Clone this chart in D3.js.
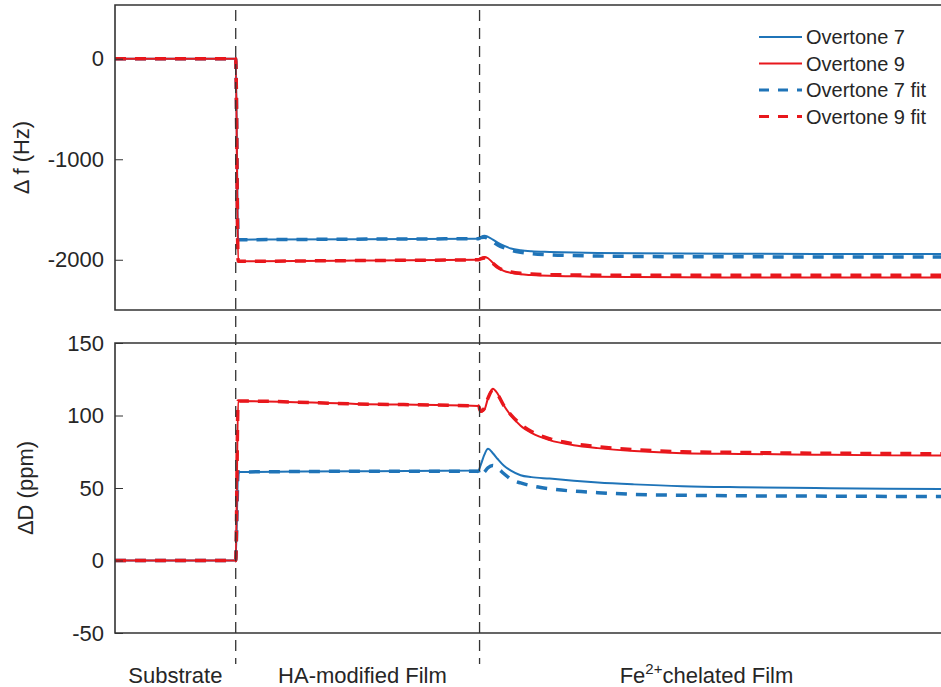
<!DOCTYPE html>
<html>
<head>
<meta charset="utf-8">
<script src="https://cdn.jsdelivr.net/npm/d3@7"></script>
<style>
  html, body { margin: 0; padding: 0; background: #fff; }
  svg { display: block; font-family: "Liberation Sans", Arial, Helvetica, sans-serif; }
</style>
</head>
<body>
<svg id="chart" width="941" height="687"></svg>
<script>
// Time (min) of each sample
const time = [0, 10, 10.2, 20, 30.1, 30.3, 30.6, 30.9, 31.3, 31.7, 32.2, 32.8, 33.6, 34.5, 36, 38, 40, 43, 47, 52, 58, 64, 70];

// Frequency shift, Δf (Hz)
const df7    = [0, 0, -1800, -1795, -1790, -1775, -1762, -1772, -1800, -1830, -1860, -1888, -1905, -1915, -1922, -1928, -1932, -1936, -1939, -1941, -1942, -1942, -1943];
const df9    = [0, 0, -2015, -2008, -2000, -1985, -1972, -1985, -2030, -2075, -2110, -2130, -2145, -2152, -2160, -2165, -2170, -2172, -2175, -2176, -2177, -2177, -2177];
const df7fit = [0, 0, -1800, -1795, -1790, -1780, -1775, -1788, -1822, -1852, -1880, -1905, -1925, -1938, -1950, -1958, -1963, -1967, -1970, -1971, -1972, -1973, -1973];
const df9fit = [0, 0, -2015, -2008, -2000, -1990, -1982, -1995, -2035, -2075, -2105, -2122, -2135, -2142, -2148, -2151, -2153, -2154, -2155, -2155, -2155, -2155, -2155];

// Dissipation shift, ΔD (ppm)
const dd7    = [0, 0, 61, 61.5, 62, 66, 73, 77, 74, 70, 65.5, 62, 58.8, 57.5, 56.5, 55, 53.8, 52.5, 51.2, 50.5, 50, 49.5, 49.2];
const dd9    = [0, 0, 110, 108, 106.5, 102.5, 104, 112, 118.5, 115, 107, 100, 93, 88, 83, 79.5, 77.5, 75.5, 74, 73.5, 73, 72.5, 72.3];
const dd7fit = [0, 0, 61, 61.5, 61.5, 58.5, 61, 64, 65.5, 63.5, 60, 56, 53.5, 51.5, 49.5, 47.8, 46.8, 45.6, 45, 44.6, 44.4, 44.2, 44];
const dd9fit = [0, 0, 110, 108, 106.5, 103, 105, 112, 117.5, 114.5, 107, 100.5, 94, 89, 84, 80.5, 78.5, 76.5, 75, 74.5, 74, 73.8, 73.5];

// Stage boundaries (min) and stage labels
const stageBreaks = [10, 30.2];
const stageNames = ["Substrate", "HA-modified Film", "Fe2+chelated Film"];
const stageLabelTimes = [5, 20.5, 49];

// Tick values
const dfTicks = [0, -1000, -2000];
const ddTicks = [150, 100, 50, 0, -50];

const seriesNames = ["Overtone 7", "Overtone 9", "Overtone 7 fit", "Overtone 9 fit"];

const BLUE = "#1f74b8";
const RED = "#e8171c";
const TEXT = "#262626";
const styles = [
  { color: BLUE, width: 2, dash: null },
  { color: RED, width: 2, dash: null },
  { color: BLUE, width: 3.5, dash: "11,9" },
  { color: RED, width: 3.5, dash: "11,9" }
];

const svg = d3.select("#chart");
const left = 115, right = 960;

const x = d3.scaleLinear().domain([0, 70]).range([left, right]);
const yTop = d3.scaleLinear().domain([-2500, 535]).range([310, 5]);
const yBot = d3.scaleLinear().domain([-50, 150]).range([633, 343]);

const panels = [
  { y: yTop, top: 5, bottom: 310, ticks: dfTicks, series: [df7, df9, df7fit, df9fit], label: "\u0394 f (Hz)", labelX: 29 },
  { y: yBot, top: 343, bottom: 633, ticks: ddTicks, series: [dd7, dd9, dd7fit, dd9fit], label: "\u0394D (ppm)", labelX: 33 }
];

panels.forEach((p, i) => {
  const g = svg.append("g");
  const clipId = "clip" + i;
  svg.append("clipPath").attr("id", clipId)
    .append("rect").attr("x", left).attr("y", p.top).attr("width", right - left).attr("height", p.bottom - p.top);

  const lines = g.append("g").attr("clip-path", `url(#${clipId})`);
  p.series.forEach((vals, k) => {
    const line = d3.line()
      .x((d, j) => x(time[j]))
      .y(d => p.y(d))
      .curve(d3.curveMonotoneX);
    lines.append("path")
      .datum(vals)
      .attr("d", line)
      .attr("fill", "none")
      .attr("stroke", styles[k].color)
      .attr("stroke-width", styles[k].width)
      .attr("stroke-dasharray", styles[k].dash)
      .attr("stroke-linejoin", "round");
  });

  // left axis with inward ticks
  const axis = d3.axisLeft(p.y).tickValues(p.ticks).tickFormat(d => String(d))
    .tickSize(-8).tickPadding(11).tickSizeOuter(0);
  const ag = g.append("g").attr("transform", `translate(${left},0)`).call(axis);
  ag.select(".domain").remove();
  ag.selectAll(".tick line").attr("stroke", "#333").attr("stroke-width", 1);
  ag.selectAll(".tick text").attr("font-size", 22).attr("fill", TEXT)
    .attr("font-family", "Liberation Sans, Arial, sans-serif");

  // panel box (left, top, bottom edges)
  g.append("path")
    .attr("d", `M${right},${p.top}H${left}V${p.bottom}H${right}`)
    .attr("fill", "none").attr("stroke", "#333").attr("stroke-width", 1.6);

  g.append("text")
    .attr("transform", `translate(${p.labelX},${(p.top + p.bottom) / 2}) rotate(-90)`)
    .attr("text-anchor", "middle")
    .attr("font-size", 22).attr("fill", TEXT)
    .text(p.label);
});

// stage boundaries
svg.append("g").selectAll("line").data(stageBreaks).join("line")
  .attr("x1", d => x(d)).attr("x2", d => x(d))
  .attr("y1", 10).attr("y2", 664)
  .attr("stroke", "#333").attr("stroke-width", 1.3)
  .attr("stroke-dasharray", "11,7");

// stage labels
const labels = svg.append("g").attr("font-size", 22).attr("fill", TEXT).attr("text-anchor", "middle");
stageNames.forEach((name, i) => {
  const t = labels.append("text").attr("x", x(stageLabelTimes[i])).attr("y", 683);
  if (name.startsWith("Fe2+")) {
    t.append("tspan").text("Fe");
    t.append("tspan").attr("dy", -9).attr("font-size", 15).text("2+");
    t.append("tspan").attr("dy", 9).text(name.slice(4));
  } else {
    t.text(name);
  }
});

// legend
const lg = svg.append("g").attr("transform", "translate(750,22)");
lg.append("rect").attr("width", 200).attr("height", 108).attr("fill", "#fff");
seriesNames.forEach((name, i) => {
  const yy = 15 + i * 26.5;
  lg.append("line").attr("x1", 9).attr("x2", 52).attr("y1", yy).attr("y2", yy)
    .attr("stroke", styles[i].color)
    .attr("stroke-width", styles[i].dash ? 3 : 2)
    .attr("stroke-dasharray", styles[i].dash ? "10,9" : null);
  lg.append("text").attr("x", 56).attr("y", yy + 7)
    .attr("font-size", 20).attr("fill", TEXT).text(name);
});
</script>
</body>
</html>
